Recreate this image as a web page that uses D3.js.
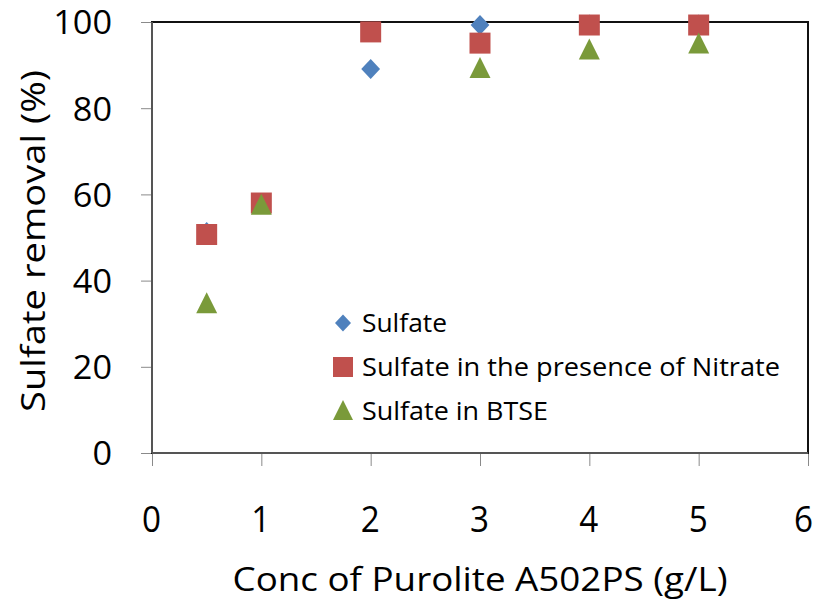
<!DOCTYPE html>
<html>
<head>
<meta charset="utf-8">
<script src="https://cdn.jsdelivr.net/npm/d3@7/dist/d3.min.js"></script>
<style>
  html, body { margin: 0; padding: 0; background: #fff; }
  text { font-family: "Open Sans", "DejaVu Sans", sans-serif; fill: #000; }
</style>
</head>
<body>
<svg id="chart" width="817" height="601"></svg>
<script>
// ---- data ----
const xValues = [0.5, 1, 2, 3, 4, 5];
const sulfate = [51.3, 58, 89.1, 99.3, 99.4, 99.4];
const sulfateNitrate = [50.7, 58, 97.7, 95.1, 99.3, 99.3];
const sulfateBTSE = [34.6, 57.5, null, 89.2, 93.5, 94.9];
const seriesNames = ["Sulfate", "Sulfate in the presence of Nitrate", "Sulfate in BTSE"];
const xTicks = [0, 1, 2, 3, 4, 5, 6];
const yTicks = [0, 20, 40, 60, 80, 100];
const xTitle = "Conc of Purolite A502PS (g/L)";
const yTitle = "Sulfate removal (%)";

// ---- layout ----
const L = 152, R = 808, T = 22, B = 453;
const svg = d3.select("#chart");
const x = d3.scaleLinear().domain([0, 6]).range([L, R]);
const y = d3.scaleLinear().domain([0, 100]).range([B, T]);

function fitText(sel, w) {
  if (w) sel.attr("textLength", w).attr("lengthAdjust", "spacingAndGlyphs");
  return sel;
}

// axes
const yAxis = d3.axisLeft(y).tickValues(yTicks).tickFormat(d3.format("d")).tickSize(11).tickPadding(29);
const gy = svg.append("g").attr("transform", `translate(${L},0)`).call(yAxis);
gy.select(".domain").remove();
gy.selectAll(".tick line").attr("stroke", "#8a8a8a").attr("stroke-width", 1);
gy.selectAll(".tick text").attr("font-size", 33).attr("fill", "#000")
  .attr("font-family", "Open Sans").attr("dy", "0.36em")
  .each(function(d) { fitText(d3.select(this), String(d).length * 19.6); });

const xAxis = d3.axisBottom(x).tickValues(xTicks).tickFormat(d3.format("d")).tickSize(13).tickPadding(40);
const gx = svg.append("g").attr("transform", `translate(0,${B})`).call(xAxis);
gx.select(".domain").remove();
gx.selectAll(".tick line").attr("stroke", "#8a8a8a").attr("stroke-width", 1);
gx.selectAll(".tick text").attr("font-size", 37).attr("fill", "#000")
  .attr("font-family", "Open Sans").attr("dy", "0.36em")
  .attr("y", 519 - B).attr("x", d => d === 6 ? -5 : -1)
  .each(function() { fitText(d3.select(this), 19); });

// plot frame
svg.append("rect").attr("x", L).attr("y", T).attr("width", R - L).attr("height", B - T)
  .attr("fill", "none").attr("stroke", "#111").attr("stroke-width", 2);
svg.append("line").attr("x1", L).attr("x2", L).attr("y1", T).attr("y2", B)
  .attr("stroke", "#555").attr("stroke-width", 2);
svg.append("line").attr("x1", L).attr("x2", R).attr("y1", B).attr("y2", B)
  .attr("stroke", "#555").attr("stroke-width", 2);

// symbols
const colors = ["#4F81BD", "#C0504D", "#7A9A3A"];
const diamond = s => `M0,${-s/2}L${s*0.47},0L0,${s/2}L${-s*0.47},0Z`;
const square = s => `M${-s/2},${-s/2}H${s/2}V${s/2}H${-s/2}Z`;
const triangle = s => `M0,${-s*0.55}L${s/2},${s*0.45}L${-s/2},${s*0.45}Z`;
const shapes = [diamond, square, triangle];
const sizes = [20, 21, 21];
const allSeries = [sulfate, sulfateNitrate, sulfateBTSE];

allSeries.forEach((vals, i) => {
  const pts = vals.map((v, j) => ({ x: xValues[j], v })).filter(p => p.v != null);
  svg.append("g").selectAll("path").data(pts).join("path")
    .attr("d", shapes[i](sizes[i]))
    .attr("transform", p => `translate(${x(p.x)},${y(p.v)})`)
    .attr("fill", colors[i]);
});

// legend
const legendY = [323, 367, 411];
const legendW = [85, 418, 186];
const lg = svg.append("g");
seriesNames.forEach((name, i) => {
  const sz = i === 0 ? 17 : 20;
  lg.append("path").attr("d", shapes[i](sz))
    .attr("transform", `translate(343,${legendY[i]})`).attr("fill", colors[i]);
  fitText(lg.append("text").attr("x", 362).attr("y", legendY[i]).attr("dy", "0.36em")
    .attr("font-size", 26).text(name), legendW[i]);
});

// titles
fitText(svg.append("text").attr("x", 480).attr("y", 579).attr("dy", "0.36em")
  .attr("text-anchor", "middle").attr("font-size", 32).text(xTitle), 495);
fitText(svg.append("text").attr("transform", "translate(33,241) rotate(-90)")
  .attr("dy", "0.36em").attr("text-anchor", "middle").attr("font-size", 32).text(yTitle), 342);
</script>
</body>
</html>
